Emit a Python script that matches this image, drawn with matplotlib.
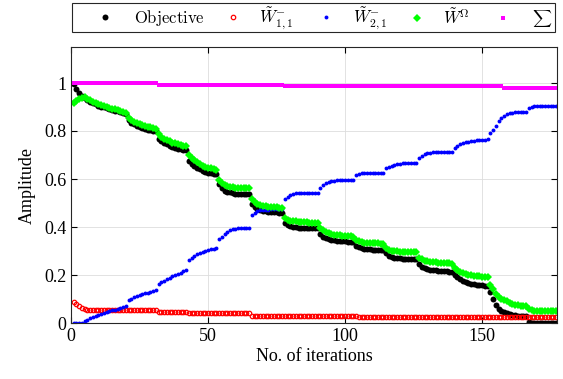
import numpy as np
import matplotlib
matplotlib.use('Agg')
from matplotlib import pyplot as plt
from matplotlib.patches import Rectangle

plt.rcParams['font.family'] = ['Liberation Serif', 'DejaVu Serif']
plt.rcParams['mathtext.fontset'] = 'cm'

# values, iteration by iteration
objective = ([0.995, 0.975, 0.96, 0.947, 0.937, 0.929, 0.922, 0.916, 0.911, 0.906,
              0.902, 0.899, 0.895, 0.892, 0.888, 0.885, 0.882, 0.879, 0.876, 0.872]
             + [0.845, 0.835, 0.828, 0.822, 0.817, 0.813, 0.809, 0.806, 0.803, 0.801, 0.799]
             + [0.768, 0.758, 0.75, 0.744, 0.739, 0.734, 0.73, 0.727, 0.724, 0.721, 0.719]
             + [0.675, 0.664, 0.655, 0.647, 0.64, 0.635, 0.63, 0.626, 0.623, 0.621, 0.619]
             + [0.58, 0.563, 0.552, 0.547, 0.544, 0.541, 0.539, 0.538, 0.537, 0.537, 0.536, 0.536]
             + [0.494, 0.482, 0.475, 0.471, 0.468, 0.466, 0.464, 0.463, 0.462, 0.461, 0.46, 0.459]
             + [0.418, 0.408, 0.403, 0.4, 0.398, 0.397, 0.396, 0.396, 0.395, 0.395, 0.394, 0.394, 0.394]
             + [0.372, 0.36, 0.353, 0.349, 0.346, 0.344, 0.342, 0.341, 0.34, 0.34, 0.339, 0.338, 0.336]
             + [0.322, 0.316, 0.312, 0.31, 0.308, 0.307, 0.306, 0.305, 0.305, 0.304, 0.303]
             + [0.29, 0.281, 0.275, 0.272, 0.27, 0.269, 0.268, 0.268, 0.267, 0.267, 0.266, 0.266]
             + [0.245, 0.235, 0.229, 0.225, 0.222, 0.22, 0.219, 0.218, 0.217, 0.216, 0.215, 0.214, 0.213]
             + [0.2, 0.19, 0.182, 0.175, 0.17, 0.166, 0.163, 0.161, 0.159, 0.158, 0.157, 0.156, 0.154]
             + [0.13, 0.1, 0.076, 0.06, 0.05, 0.045, 0.041, 0.038, 0.035, 0.033, 0.031, 0.03, 0.029, 0.028]
             + [0.005, 0.002, 0.001, 0.001, 0.001, 0.001, 0.001, 0.001, 0.001, 0.001, 0.001])

w_omega = ([0.917, 0.925, 0.932, 0.939, 0.943, 0.935, 0.928, 0.922, 0.916, 0.911,
            0.907, 0.904, 0.9, 0.897, 0.893, 0.89, 0.887, 0.884, 0.881, 0.877]
           + [0.853, 0.845, 0.839, 0.834, 0.829, 0.825, 0.821, 0.818, 0.815, 0.812, 0.81]
           + [0.786, 0.776, 0.768, 0.762, 0.757, 0.752, 0.748, 0.745, 0.742, 0.739, 0.737]
           + [0.7, 0.688, 0.678, 0.669, 0.662, 0.656, 0.651, 0.647, 0.644, 0.641, 0.639]
           + [0.597, 0.585, 0.575, 0.57, 0.567, 0.565, 0.564, 0.563, 0.562, 0.562, 0.561, 0.561]
           + [0.515, 0.503, 0.496, 0.492, 0.489, 0.487, 0.485, 0.484, 0.483, 0.482, 0.481, 0.48]
           + [0.438, 0.43, 0.426, 0.424, 0.423, 0.422, 0.421, 0.42, 0.419, 0.418, 0.418, 0.417, 0.417]
           + [0.397, 0.387, 0.38, 0.375, 0.371, 0.368, 0.366, 0.365, 0.364, 0.363, 0.363, 0.362, 0.36]
           + [0.345, 0.34, 0.337, 0.335, 0.334, 0.333, 0.333, 0.332, 0.332, 0.331, 0.33]
           + [0.312, 0.306, 0.302, 0.3, 0.298, 0.297, 0.296, 0.296, 0.296, 0.295, 0.295, 0.295]
           + [0.272, 0.265, 0.26, 0.257, 0.255, 0.254, 0.253, 0.252, 0.251, 0.25, 0.249, 0.248, 0.247]
           + [0.23, 0.222, 0.214, 0.208, 0.203, 0.2, 0.198, 0.196, 0.195, 0.194, 0.193, 0.192, 0.19]
           + [0.16, 0.14, 0.122, 0.108, 0.1, 0.095, 0.09, 0.085, 0.08, 0.077, 0.074, 0.072, 0.071, 0.07]
           + [0.058, 0.054, 0.052, 0.051, 0.05, 0.05, 0.05, 0.05, 0.05, 0.05, 0.05])

w21 = ([0, 0, 0, 0.002, 0.008, 0.014, 0.02, 0.025, 0.03, 0.034,
        0.038, 0.042, 0.046, 0.05, 0.053, 0.056, 0.059, 0.062, 0.066, 0.07]
       + [0.095, 0.102, 0.108, 0.112, 0.116, 0.12, 0.124, 0.127, 0.13, 0.133, 0.136]
       + [0.162, 0.17, 0.176, 0.182, 0.188, 0.194, 0.2, 0.205, 0.21, 0.216, 0.222]
       + [0.262, 0.272, 0.28, 0.287, 0.292, 0.297, 0.301, 0.304, 0.307, 0.309, 0.311]
       + [0.348, 0.36, 0.372, 0.38, 0.386, 0.39, 0.393, 0.395, 0.396, 0.397, 0.397, 0.397]
       + [0.448, 0.46, 0.466, 0.469, 0.471, 0.472, 0.472, 0.473, 0.473, 0.473, 0.473, 0.473]
       + [0.518, 0.527, 0.533, 0.537, 0.54, 0.541, 0.542, 0.542, 0.543, 0.543, 0.543, 0.543, 0.543]
       + [0.564, 0.576, 0.583, 0.588, 0.591, 0.593, 0.594, 0.594, 0.594, 0.594, 0.594, 0.594, 0.594]
       + [0.615, 0.62, 0.623, 0.625, 0.626, 0.626, 0.626, 0.626, 0.626, 0.626, 0.626]
       + [0.644, 0.65, 0.655, 0.658, 0.661, 0.663, 0.665, 0.665, 0.665, 0.665, 0.665, 0.665]
       + [0.689, 0.697, 0.703, 0.707, 0.71, 0.711, 0.711, 0.711, 0.711, 0.711, 0.711, 0.711, 0.711]
       + [0.728, 0.737, 0.744, 0.749, 0.753, 0.756, 0.758, 0.76, 0.761, 0.762, 0.763, 0.764, 0.768]
       + [0.79, 0.805, 0.82, 0.843, 0.855, 0.863, 0.869, 0.874, 0.877, 0.879, 0.88, 0.881, 0.881, 0.881]
       + [0.895, 0.9, 0.903, 0.905, 0.906, 0.906, 0.906, 0.906, 0.906, 0.906, 0.906])

# red and magenta sit on flat plateaus
w11 = ([0.086, 0.078, 0.07, 0.062, 0.057] + [0.055] * 26 + [0.047] * 11
       + [0.04] * 23 + [0.031] * 39 + [0.025] * 73)
total = [1.0] * 31 + [0.993] * 46 + [0.988] * 80 + [0.98] * 20

iters = np.arange(1, len(objective) + 1)

fig = plt.figure(figsize=(5.63, 3.79), dpi=100)
ax = fig.add_axes([71/563, 56/379, 486/563, 276/379])

h1, = ax.plot(iters, objective, 'o', color='black', ms=4.3, mew=0)
h2, = ax.plot(iters, w11, 'o', color='red', mfc='none', ms=3.2, mew=0.9)
h3, = ax.plot(iters, w21, 'o', color='blue', ms=2.8, mew=0)
h4, = ax.plot(iters, w_omega, 'D', color='#00ff00', ms=3.6, mew=0)
h5, = ax.plot(iters, total, 's', color='#ff00ff', ms=3.2, mew=0)

ax.set_xlim(0, 177.3)
ax.set_ylim(0, 1.15)
ax.set_xticks([0, 50, 100, 150])
ax.set_yticks([0, 0.2, 0.4, 0.6, 0.8, 1])
ax.set_yticklabels(['0', '0.2', '0.4', '0.6', '0.8', '1'])
ax.tick_params(direction='in', top=True, right=True, labelsize=13, length=4, width=0.8)
ax.grid(True, color='#dddddd', linewidth=0.6)
ax.set_axisbelow(True)
for s in ax.spines.values():
    s.set_linewidth(0.8)
    s.set_color('#262626')
ax.set_xlabel('No. of iterations', fontsize=13, labelpad=2)
ax.set_ylabel('Amplitude', fontsize=13, labelpad=6)

# legend box across the top, drawn by hand, one entry per slot
fig.patches.append(Rectangle((72/563, 1 - 32/379), 483/563, 29/379, transform=fig.transFigure,
                             facecolor='white', edgecolor='#262626', linewidth=0.8))
labels = [r'$\mathrm{Objective}$', r'$\tilde{W}^{-}_{1,1}$', r'$\tilde{W}^{-}_{2,1}$',
          r'$\tilde{W}^{\Omega}$', r'$\sum$']
marker_x = [105, 233, 326, 417, 503]
text_x = [134, 259, 353, 443, 532]
label_size = [12, 12, 12, 12, 9.5]
handles = [h1, h2, h3, h4, h5]
em = 12 * 100 / 72.0
for h, lab, mx, tx, fs in zip(handles, labels, marker_x, text_x, label_size):
    fpx = fs * 100 / 72.0
    fig.legend([h], [lab], loc='center left',
               bbox_to_anchor=((mx - em / 2) / 563, 1 - 18/379),
               fontsize=fs, frameon=False, borderaxespad=0, borderpad=0,
               handlelength=em / fpx, handletextpad=(tx - mx - em / 2) / fpx)

fig.savefig('out.png', dpi=100)
